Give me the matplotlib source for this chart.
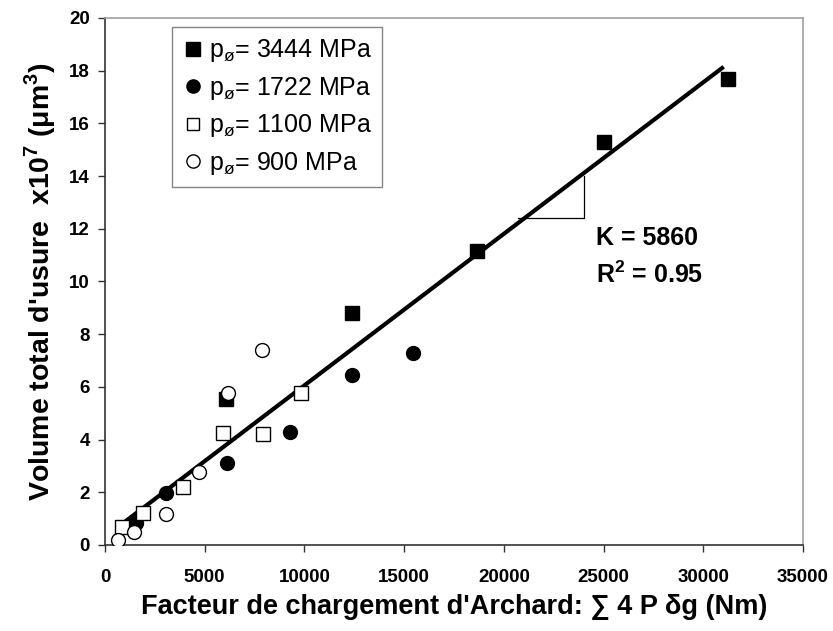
import matplotlib
matplotlib.use("Agg")
import matplotlib.pyplot as plt

BOLD_FAM = ['Liberation Sans', 'DejaVu Sans']
REG_FAM = ['Liberation Sans', 'DejaVu Sans']
plt.rcParams['font.family'] = REG_FAM
plt.rcParams['mathtext.fontset'] = 'custom'
plt.rcParams['mathtext.rm'] = 'Liberation Sans'
plt.rcParams['mathtext.bf'] = 'Liberation Sans:bold'

# Data
x_3444 = [6070, 12390, 18660, 25020, 31250]
y_3444 = [5.55, 8.8, 11.15, 15.3, 17.7]
x_1722 = [1550, 3060, 6120, 9280, 12390, 15450]
y_1722 = [0.84, 1.97, 3.11, 4.29, 6.45, 7.29]
x_1100 = [850, 1900, 3910, 5920, 7920, 9830]
y_1100 = [0.68, 1.21, 2.2, 4.25, 4.21, 5.77]
x_900 = [650, 1450, 3060, 4710, 6170, 7870]
y_900 = [0.19, 0.49, 1.18, 2.77, 5.77, 7.40]
fit_x = [650, 30940]
fit_y = [0.68, 18.1]
tri_x = [20700, 24000, 24000]
tri_y = [12.4, 12.4, 14.0]
labels = [r'p$_\mathregular{ø}$= 3444 MPa', r'p$_\mathregular{ø}$= 1722 MPa',
          r'p$_\mathregular{ø}$= 1100 MPa', r'p$_\mathregular{ø}$= 900 MPa']
xticks = [0, 5000, 10000, 15000, 20000, 25000, 30000, 35000]
yticks = [0, 2, 4, 6, 8, 10, 12, 14, 16, 18, 20]

fig = plt.figure(figsize=(8.33, 6.31), dpi=100)
ax = fig.add_axes([0.126, 0.1363, 0.838, 0.8352])

ax.plot(fit_x, fit_y, color='black', lw=3, zorder=2)
ax.plot(tri_x, tri_y, color='black', lw=0.9, zorder=2)

ms = 10
ax.plot(x_3444, y_3444, 's', ms=ms, mfc='black', mec='black', ls='none', label=labels[0], zorder=3)
ax.plot(x_1722, y_1722, 'o', ms=ms, mfc='black', mec='black', ls='none', label=labels[1], zorder=3)
ax.plot(x_1100, y_1100, 's', ms=ms - 0.5, mfc='white', mec='black', mew=1.0, ls='none', label=labels[2], zorder=3)
ax.plot(x_900, y_900, 'o', ms=ms, mfc='white', mec='black', mew=1.0, ls='none', label=labels[3], zorder=3)

ax.set_xlim(0, 35000)
ax.set_ylim(0, 20)
ax.set_xticks(xticks)
ax.set_yticks(yticks)
ax.set_xticklabels([str(v) for v in xticks], fontweight='bold', fontsize=13.5, family=BOLD_FAM)
ax.set_yticklabels([str(v) for v in yticks], fontweight='bold', fontsize=13.5, family=BOLD_FAM)
ax.tick_params(direction='out', length=5, width=1, color='#333333', pad=6)
ax.tick_params(axis='x', pad=12)

for s in ['left', 'bottom']:
    ax.spines[s].set_color('#333333')
    ax.spines[s].set_linewidth(1.2)
for s in ['top', 'right']:
    ax.spines[s].set_color('#a0a0a0')
    ax.spines[s].set_linewidth(1.2)

ax.set_xlabel("Facteur de chargement d'Archard: \u2211 4 P \u03b4g (Nm)", fontsize=19.5,
              fontweight='bold', family=BOLD_FAM, labelpad=6)
ax.set_ylabel(r"Volume total d'usure  x10$^\mathbf{7}$ ($\mathbf{\mu}$m$^\mathbf{3}$)",
              fontsize=20.5, fontweight='bold', family=BOLD_FAM, labelpad=8)

ax.text(24600, 11.65, 'K = 5860', fontsize=18, fontweight='bold', va='center', ha='left')
ax.text(24600, 10.25, r'R$^\mathbf{2}$ = 0.95', fontsize=18, fontweight='bold', va='center', ha='left')

leg = ax.legend(loc='upper left', bbox_to_anchor=(0.096, 0.982), fontsize=18, frameon=True,
                fancybox=False, edgecolor='#666666', handletextpad=0.2, handlelength=0.9,
                borderpad=0.4, labelspacing=0.42, markerscale=0.95, borderaxespad=0)
leg.get_frame().set_linewidth(1.0)

fig.savefig('out.png', dpi=100)
